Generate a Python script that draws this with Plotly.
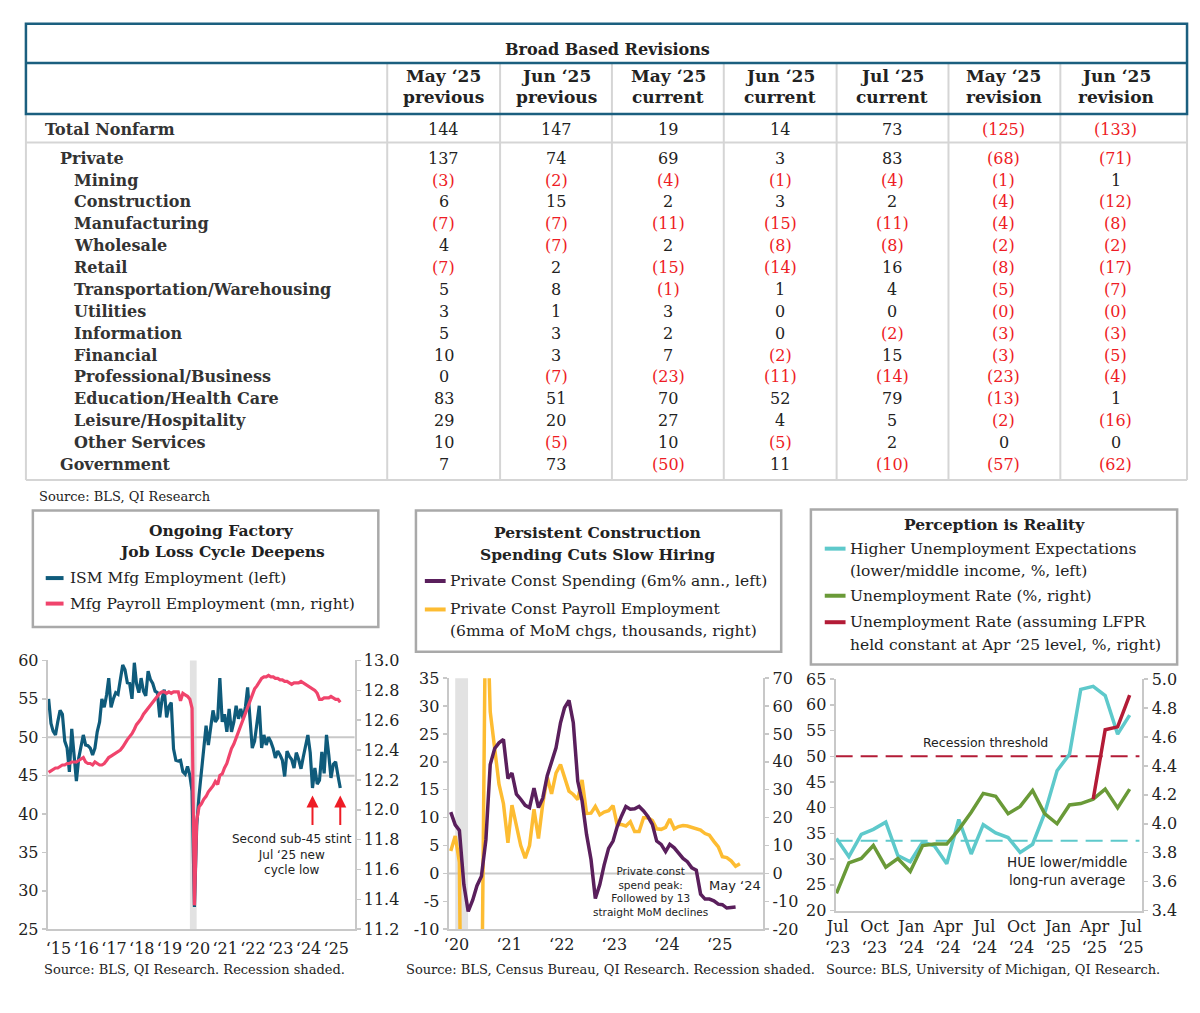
import plotly.graph_objects as go
import pandas as pd

# ---------------- TABLE DATA ----------------
row_labels = ["Total Nonfarm", "Private", "Mining", "Construction", "Manufacturing", "Wholesale",
              "Retail", "Transportation/Warehousing", "Utilities", "Information", "Financial",
              "Professional/Business", "Education/Health Care", "Leisure/Hospitality",
              "Other Services", "Government"]
row_levels = [0, 1, 2, 2, 2, 2, 2, 2, 2, 2, 2, 2, 2, 2, 2, 1]
may25_prev = [144, 137, -3, 6, -7, 4, -7, 5, 3, 5, 10, 0, 83, 29, 10, 7]
jun25_prev = [147, 74, -2, 15, -7, -7, 2, 8, 1, 3, 3, -7, 51, 20, -5, 73]
may25_cur = [19, 69, -4, 2, -11, 2, -15, -1, 3, 2, 7, -23, 70, 27, 10, -50]
jun25_cur = [14, 3, -1, 3, -15, -8, -14, 1, 0, 0, -2, -11, 52, 4, -5, 11]
jul25_cur = [73, 83, -4, 2, -11, -8, 16, 4, 0, -2, 15, -14, 79, 5, 2, -10]
may25_rev = [-125, -68, -1, -4, -4, -2, -8, -5, -0.3, -3, -3, -23, -13, -2, 0, -57]
jun25_rev = [-133, -71, 1, -12, -8, -2, -17, -7, -0.4, -3, -5, -4, 1, -16, 0, -62]
col_head1 = ["May ‘25", "Jun ‘25", "May ‘25", "Jun ‘25", "Jul ‘25", "May ‘25", "Jun ‘25"]
col_head2 = ["previous", "previous", "current", "current", "current", "revision", "revision"]

# ---------------- CHART 1 DATA (monthly Jan 2015 - Jul 2025) ----------------
ism_mfg_emp = [
    55.0, 51.8, 50.8, 50.3, 52.0, 53.5, 53.0, 49.5, 48.6, 45.5, 51.1, 48.0,
    44.3, 47.3, 48.8, 50.3, 49.0, 48.9, 48.6, 47.7, 48.6, 50.7, 52.0, 55.0,
    53.9, 55.5, 57.7, 53.9, 55.0, 55.8, 55.6, 57.5, 59.4, 58.8, 57.1, 57.0,
    55.0, 59.7, 57.0, 55.8, 57.7, 56.0, 55.4, 58.6, 57.5, 57.0, 56.0, 55.8,
    52.6, 55.0, 56.2, 52.6, 54.0, 54.5, 48.5, 47.0, 46.9, 47.0, 45.5, 45.2,
    46.2, 45.0, 43.0, 27.9, 38.5, 42.5, 45.5, 48.5, 51.5, 49.0, 51.0, 53.5,
    52.0, 52.5, 57.7, 52.0, 53.0, 50.7, 53.7, 50.7, 52.0, 54.1, 52.4, 53.7,
    52.4, 54.0, 56.5, 52.0, 48.6, 49.5, 52.0, 54.1, 48.6, 50.3, 49.0, 50.0,
    49.4, 48.5, 47.3, 48.2, 47.7, 47.0, 44.9, 48.2, 47.5, 47.1, 46.0, 48.0,
    47.1, 45.9, 47.4, 49.0, 50.3, 48.0, 43.4, 46.0, 43.9, 44.4, 48.1, 45.3,
    50.3, 47.6, 44.7, 46.5, 46.8, 45.0, 43.4]
mfg_payroll_mn = [
    12.25, 12.26, 12.27, 12.28, 12.28, 12.29, 12.30, 12.30, 12.31, 12.31, 12.32, 12.32,
    12.32, 12.33, 12.34, 12.35, 12.32, 12.31, 12.31, 12.30, 12.32, 12.31, 12.30, 12.30,
    12.31, 12.33, 12.35, 12.36, 12.37, 12.38, 12.39, 12.40, 12.42, 12.45, 12.47, 12.49,
    12.51, 12.54, 12.57, 12.59, 12.61, 12.64, 12.66, 12.68, 12.70, 12.72, 12.74, 12.76,
    12.78, 12.79, 12.79, 12.78, 12.79, 12.78, 12.79, 12.79, 12.79, 12.73, 12.78, 12.77,
    12.76, 12.74, 12.68, 11.36, 11.93, 12.02, 12.04, 12.07, 12.09, 12.12, 12.14, 12.16,
    12.19, 12.17, 12.23, 12.24, 12.28, 12.31, 12.36, 12.41, 12.44, 12.48, 12.52, 12.56,
    12.61, 12.65, 12.69, 12.73, 12.77, 12.81, 12.83, 12.86, 12.88, 12.89, 12.89, 12.90,
    12.89, 12.89, 12.88, 12.88, 12.87, 12.87, 12.86, 12.86, 12.85, 12.84, 12.85, 12.85,
    12.85, 12.86, 12.85, 12.84, 12.83, 12.82, 12.81, 12.80, 12.78, 12.74, 12.74, 12.75,
    12.75, 12.75, 12.76, 12.75, 12.74, 12.74, 12.72]
c1_years = list(range(2015, 2026))

# ---------------- CHART 2 DATA (monthly from Jan 2020) ----------------
priv_const_spending = [
    11.0, 8.7, 7.7, -2.0, -6.8, -4.8, -2.2, -0.5, 6.0, 19.5, 22.4, 23.4,
    24.0, 17.0, 18.0, 14.2, 13.3, 12.2, 11.8, 15.3, 11.8, 13.5, 17.5, 19.8,
    22.5, 27.0, 29.7, 31.0, 27.0, 16.5, 13.0, 7.0, 2.5, -4.5, -2.0, 1.5,
    4.5, 5.8, 8.3, 10.3, 12.0, 11.5, 11.6, 12.0, 11.2, 10.2, 8.8, 5.8,
    5.2, 3.9, 5.2, 4.6, 3.6, 2.7, 2.1, 1.0, 0.6, -3.7, -4.6, -4.6,
    -4.9, -5.5, -5.6, -6.2, -6.1, -6.0]
priv_const_payroll = [
    8.0, 13.4, 4.0, -170, -95, -65, -62, -60, 110, 58, 45, 32,
    25, 11, 24.5, 16.5, 10, 5.5, 10, 23, 12.5, 25, 34.5, 28.5,
    36, 39, 34.5, 29.5, 28.3, 26.5, 33.5, 21.5, 21.6, 24, 21, 22,
    22.5, 24.3, 17.5, 17.5, 17, 18.5, 15, 15, 20, 20, 19, 16,
    15.8, 16.5, 19.5, 16, 16.8, 17.2, 17, 16.6, 16.2, 15.5, 14.3, 13.7,
    11.5, 9.5, 6, 5.7, 4.5, 2.6, 3.5]
c2_years = list(range(2020, 2026))

# ---------------- CHART 3 DATA (monthly Jul 2023 - Jul 2025) ----------------
hue_lower_middle = [34.0, 30.5, 34.8, 35.8, 37.2, 30.7, 29.5, 33.3, 32.6, 29.1, 37.7, 31.0, 36.7,
                    35.1, 34.2, 31.3, 32.9, 38.9, 47.2, 50.4, 63.0, 63.6, 61.8, 54.3, 58.0]
unemp_rate = [3.52, 3.73, 3.76, 3.85, 3.70, 3.76, 3.67, 3.85, 3.86, 3.86, 3.96, 4.08, 4.21,
              4.19, 4.07, 4.12, 4.23, 4.07, 4.00, 4.13, 4.14, 4.17, 4.24, 4.11, 4.24]
unemp_rate_lfpr = [4.17, 4.65, 4.67, 4.89]   # Apr - Jul 2025
recession_threshold = 50
hue_longrun_avg = 33.6
c3_ticks = ["2023-07", "2023-10", "2024-01", "2024-04", "2024-07", "2024-10", "2025-01", "2025-04", "2025-07"]
c3_ticktext = ["Jul<br>‘23", "Oct<br>‘23", "Jan<br>‘24", "Apr<br>‘24", "Jul<br>‘24",
               "Oct<br>‘24", "Jan<br>‘25", "Apr<br>‘25", "Jul<br>‘25"]

# ---------------- STYLE ----------------
# The page keeps the browser's default 8px body margin, so the figure is sized to fit inside it.
OFF = 8
FW, FH = 1184, 995
SERIF = "DejaVu Serif"
SANS = "DejaVu Sans"
TEAL_BORDER = "#1b5f7f"
GRID = "#d5d5d5"
AXIS = "#c8c8c8"
RED_TXT = "#ee1c25"
TXT = "#222222"
LBL = "#333333"
ISM_C = "#0f5b7b"
PAY_C = "#f0446c"
PURP_C = "#5a1f5c"
YEL_C = "#fdbc32"
CYAN_C = "#5ec9cb"
GREEN_C = "#6a9a38"
DKRED_C = "#b31b36"
BOX_C = "#a9a9a9"


def px(x):
    return (x - OFF) / FW


def py(y):
    return 1 - (y - OFF) / FH


shapes = []
annots = []


def line(x0, y0, x1, y1, color, width):
    shapes.append(dict(type="line", xref="paper", yref="paper", x0=px(x0), y0=py(y0),
                       x1=px(x1), y1=py(y1), line=dict(color=color, width=width)))


def rect(x0, y0, x1, y1, color, width):
    shapes.append(dict(type="rect", xref="paper", yref="paper", x0=px(x0), y0=py(y0),
                       x1=px(x1), y1=py(y1), line=dict(color=color, width=width),
                       fillcolor="rgba(0,0,0,0)"))


def text(x, y, s, size=16, color=TXT, bold=False, anchor="center", family=SERIF):
    annots.append(dict(xref="paper", yref="paper", x=px(x), y=py(y),
                       text=f"<b>{s}</b>" if bold else s, showarrow=False,
                       xanchor=anchor, yanchor="middle", borderpad=0,
                       font=dict(family=family, size=size, color=color)))


# ---------------- TABLE ----------------
col_edges = [15, 380, 494, 607, 720, 834, 947, 1060, 1188]
col_centers = [437, 551, 664, 777, 890, 1003, 1116]
columns = [may25_prev, jun25_prev, may25_cur, jun25_cur, jul25_cur, may25_rev, jun25_rev]

for xe in col_edges[1:-1]:
    line(xe, 55, xe, 480, GRID, 2)
line(15, 107, 15, 480, GRID, 2)
line(1188, 107, 1188, 480, GRID, 2)
line(15, 136, 1188, 136, GRID, 2)
line(15, 480, 1188, 480, GRID, 2)
rect(15, 15, 1188, 107, TEAL_BORDER, 2.5)
line(15, 55, 1188, 55, TEAL_BORDER, 2.5)

text(603, 41, "Broad Based Revisions", size=16, bold=True)
for c, h1, h2 in zip(col_centers, col_head1, col_head2):
    text(c, 68, h1, size=17, bold=True)
    text(c, 90, h2, size=17, bold=True)

indent_x = {0: 33, 1: 48, 2: 63}
row_y = [123] + [152 + 22.3 * i for i in range(15)]
for i, (lab, lev) in enumerate(zip(row_labels, row_levels)):
    text(indent_x[lev], row_y[i], lab, size=16, bold=True, color=LBL, anchor="left")
    for c, col in zip(col_centers, columns):
        v = col[i]
        if v < 0:
            text(c, row_y[i], f"({abs(round(v))})", size=16, color=RED_TXT)
        else:
            text(c, row_y[i], f"{round(v)}", size=16, color=TXT)

text(27, 497, "Source: BLS, QI Research", size=13, anchor="left")

# ---------------- LEGEND BOXES ----------------
rect(22, 511, 371, 630, BOX_C, 2.5)
text(213, 531, "Ongoing Factory", size=15.5, bold=True)
text(213, 553, "Job Loss Cycle Deepens", size=15.5, bold=True)
line(35, 580, 53, 580, ISM_C, 4)
text(59, 580, "ISM Mfg Employment (left)", size=15.5, anchor="left")
line(35, 606, 53, 606, PAY_C, 4)
text(59, 606, "Mfg Payroll Employment (mn, right)", size=15.5, anchor="left")

rect(409, 511, 778, 655, BOX_C, 2.5)
text(592, 534, "Persistent Construction", size=15.5, bold=True)
text(592, 556, "Spending Cuts Slow Hiring", size=15.5, bold=True)
line(418, 583, 439, 583, PURP_C, 4)
text(442, 583, "Private Const Spending (6m% ann., left)", size=15.5, anchor="left")
line(418, 612, 439, 612, YEL_C, 4)
text(442, 612, "Private Const Payroll Employment", size=15.5, anchor="left")
text(442, 634, "(6mma of MoM chgs, thousands, right)", size=15.5, anchor="left")

rect(808, 510, 1178, 668, BOX_C, 2.5)
text(993, 525, "Perception is Reality", size=15.5, bold=True)
line(822, 550, 843, 550, CYAN_C, 4)
text(847, 550, "Higher Unemployment Expectations", size=15.5, anchor="left")
text(847, 573, "(lower/middle income, %, left)", size=15.5, anchor="left")
line(822, 598, 843, 598, GREEN_C, 4)
text(847, 598, "Unemployment Rate (%, right)", size=15.5, anchor="left")
line(822, 625, 843, 625, DKRED_C, 4)
text(847, 625, "Unemployment Rate (assuming LFPR", size=15.5, anchor="left")
text(847, 648, "held constant at Apr ‘25 level, %, right)", size=15.5, anchor="left")

text(32, 979, "Source: BLS, QI Research. Recession shaded.", size=13, anchor="left")
text(398, 979, "Source: BLS, Census Bureau, QI Research. Recession shaded.", size=13, anchor="left")
text(822, 979, "Source: BLS, University of Michigan, QI Research.", size=13, anchor="left")

# ---------------- FIGURE ----------------
fig = go.Figure()

c1_dates = pd.date_range("2015-01-01", periods=len(ism_mfg_emp), freq="MS")
c2_dates_s = pd.date_range("2020-01-01", periods=len(priv_const_spending), freq="MS")
c2_dates_p = pd.date_range("2020-01-01", periods=len(priv_const_payroll), freq="MS")
c3_dates = pd.date_range("2023-07-01", periods=len(hue_lower_middle), freq="MS")
c3_dates_r = pd.date_range("2025-04-01", periods=len(unemp_rate_lfpr), freq="MS")

fig.add_trace(go.Scatter(x=c1_dates, y=ism_mfg_emp, xaxis="x", yaxis="y", mode="lines",
                         line=dict(color=ISM_C, width=3.2), name="ISM Mfg Employment (left)"))
fig.add_trace(go.Scatter(x=c1_dates, y=mfg_payroll_mn, xaxis="x", yaxis="y2", mode="lines",
                         line=dict(color=PAY_C, width=3.2), name="Mfg Payroll Employment"))

fig.add_trace(go.Scatter(x=c2_dates_p, y=priv_const_payroll, xaxis="x2", yaxis="y3", mode="lines",
                         line=dict(color=YEL_C, width=3.5), name="Private Const Payroll Employment"))
fig.add_trace(go.Scatter(x=c2_dates_s, y=priv_const_spending, xaxis="x2", yaxis="y4", mode="lines",
                         line=dict(color=PURP_C, width=3.5), name="Private Const Spending"))

fig.add_trace(go.Scatter(x=c3_dates, y=hue_lower_middle, xaxis="x3", yaxis="y5", mode="lines",
                         line=dict(color=CYAN_C, width=3.5), name="Higher Unemployment Expectations"))
fig.add_trace(go.Scatter(x=c3_dates, y=unemp_rate, xaxis="x3", yaxis="y6", mode="lines",
                         line=dict(color=GREEN_C, width=3.5), name="Unemployment Rate"))
fig.add_trace(go.Scatter(x=c3_dates_r, y=unemp_rate_lfpr, xaxis="x3", yaxis="y6", mode="lines",
                         line=dict(color=DKRED_C, width=3.5), name="Unemployment Rate (LFPR const)"))

tickfont = dict(family=SERIF, size=16, color=TXT)
common_y = dict(showline=True, linecolor=AXIS, linewidth=2, showgrid=False, zeroline=False,
                ticks="outside", ticklen=4, tickcolor=AXIS, tickwidth=1.5, tickfont=tickfont,
                fixedrange=True)
common_x = dict(type="date", showline=True, linecolor=AXIS, linewidth=2, showgrid=False,
                zeroline=False, ticks="", tickfont=tickfont, fixedrange=True)


def nums(a, b, step, fmt="{:g}"):
    vals = []
    v = a
    while v <= b + 1e-9:
        vals.append(round(v, 2))
        v += step
    return vals, [fmt.format(x) for x in vals]


y1v, y1t = nums(25, 60, 5)
y2v, y2t = nums(11.2, 13.0, 0.2, "{:.1f}")
y3v, y3t = nums(-20, 70, 10)
y4v, y4t = nums(-10, 35, 5)
y5v, y5t = nums(20, 65, 5)
y6v, y6t = nums(3.4, 5.0, 0.2, "{:.1f}")

fig.update_layout(
    width=FW, height=FH, margin=dict(l=0, r=0, t=0, b=0), autosize=False,
    paper_bgcolor="white", plot_bgcolor="rgba(0,0,0,0)", showlegend=False,
    font=dict(family=SERIF, color=TXT),
    xaxis=dict(common_x, domain=[px(37), px(347)], range=["2014-12-20", "2026-01-05"], anchor="y",
               tickvals=[f"{y}-05-10" for y in c1_years],
               ticktext=[f"‘{y % 100:02d}" for y in c1_years], ticklabelstandoff=4),
    yaxis=dict(common_y, domain=[py(938), py(664)], range=[25, 60], anchor="x",
               tickvals=y1v, ticktext=y1t),
    yaxis2=dict(common_y, domain=[py(938), py(664)], range=[11.2, 13.0], anchor="x",
                overlaying="y", side="right", tickvals=y2v, ticktext=y2t),
    xaxis2=dict(common_x, domain=[px(442), px(760)], range=["2019-12-17", "2025-12-11"], anchor="y3",
                tickvals=[f"{y}-02-10" for y in c2_years],
                ticktext=[f"‘{y % 100:02d}" for y in c2_years]),
    yaxis3=dict(common_y, domain=[py(938), py(682)], range=[-20, 70], anchor="x2", side="right",
                tickvals=y3v, ticktext=y3t),
    yaxis4=dict(common_y, domain=[py(938), py(682)], range=[-10, 35], anchor="x2", side="left",
                overlaying="y3", tickvals=y4v, ticktext=y4t),
    xaxis3=dict(common_x, domain=[px(833), px(1143)], range=["2023-06-29", "2025-08-02"], anchor="y5",
                tickvals=[d + "-04" for d in c3_ticks], ticktext=c3_ticktext),
    yaxis5=dict(common_y, domain=[py(919), py(683)], range=[20, 65], anchor="x3",
                tickvals=y5v, ticktext=y5t),
    yaxis6=dict(common_y, domain=[py(919), py(683)], range=[3.4, 5.0], anchor="x3",
                overlaying="y5", side="right", tickvals=y6v, ticktext=y6t),
)

shapes.append(dict(type="rect", xref="x", yref="y domain", x0="2020-02-01", x1="2020-04-30",
                   y0=0, y1=1, fillcolor="#e2e2e2", line=dict(width=0), layer="below"))
for lvl in (45, 50):
    shapes.append(dict(type="line", xref="x domain", yref="y", x0=0, x1=1, y0=lvl, y1=lvl,
                       line=dict(color=AXIS, width=2), layer="below"))
shapes.append(dict(type="rect", xref="x2", yref="y3 domain", x0="2020-02-01", x1="2020-04-30",
                   y0=0, y1=1, fillcolor="#e2e2e2", line=dict(width=0), layer="below"))
shapes.append(dict(type="line", xref="x2 domain", yref="y4", x0=0, x1=1, y0=0, y1=0,
                   line=dict(color=AXIS, width=2), layer="below"))
shapes.append(dict(type="line", xref="x3 domain", yref="y5", x0=0, x1=0.99,
                   y0=recession_threshold, y1=recession_threshold,
                   line=dict(color=DKRED_C, width=2, dash="17px,8px"), layer="below"))
shapes.append(dict(type="line", xref="x3 domain", yref="y5", x0=0, x1=0.99,
                   y0=hue_longrun_avg, y1=hue_longrun_avg,
                   line=dict(color=CYAN_C, width=2, dash="17px,8px"), layer="below"))

for d in ("2024-07-01", "2025-07-01"):
    annots.append(dict(xref="x", yref="y", x=d, y=42.4, ax=0, ay=31, text="", showarrow=True,
                       arrowhead=2, arrowsize=1.2, arrowwidth=2, arrowcolor=RED_TXT, standoff=0))

# multi-line notes as single text blocks
text(284, 862, "Second sub-45 stint<br>Jul ‘25 new<br>cycle low", size=12, family=SANS)
text(646, 900, "Private const<br>spend peak:<br>Followed by 13<br>straight MoM declines",
     size=10.5, family=SANS)
text(731, 893, "May ‘24", size=13, family=SANS)

text(984, 748, "Recession threshold", size=12.5, family=SANS)
text(1067, 879, "HUE lower/middle<br>long-run average", size=13.5, family=SANS)

fig.update_layout(shapes=shapes, annotations=annots)

fig.write_html("out.html", config={"displayModeBar": False, "staticPlot": True})
